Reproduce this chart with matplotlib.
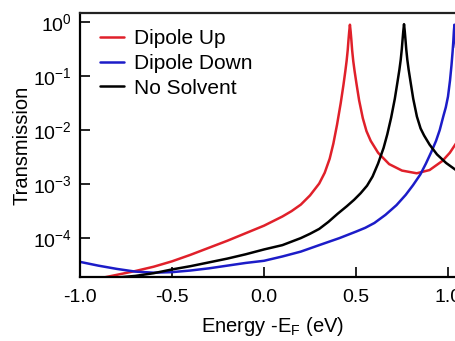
import numpy as np
import matplotlib
matplotlib.use("Agg")
import matplotlib.pyplot as plt
from matplotlib.ticker import FixedLocator, NullLocator

# ---- data (energy in eV, log10 of transmission) ----
red_E = [-1.0, -0.9, -0.8, -0.7, -0.6, -0.5, -0.4, -0.3, -0.2, -0.1, 0.0, 0.1, 0.15, 0.2,
         0.25, 0.30, 0.33, 0.357, 0.377, 0.397, 0.417, 0.432, 0.442, 0.449, 0.455, 0.459,
         0.463, 0.467, 0.471, 0.475, 0.479, 0.485, 0.492, 0.503, 0.517, 0.537, 0.557,
         0.58, 0.62, 0.68, 0.75, 0.83, 0.90, 0.97, 1.01, 1.043, 1.1]
red_logT = [-4.82, -4.75, -4.68, -4.61, -4.53, -4.43, -4.31, -4.18, -4.05, -3.91, -3.77,
            -3.60, -3.50, -3.38, -3.21, -2.99, -2.79, -2.53, -2.25, -1.90, -1.50, -1.16,
            -0.91, -0.72, -0.52, -0.34, -0.18, -0.05, -0.18, -0.34, -0.52, -0.72, -0.90,
            -1.15, -1.45, -1.78, -2.02, -2.20, -2.42, -2.63, -2.75, -2.80, -2.74, -2.57,
            -2.42, -2.25, -1.90]

blue_E = [-1.0, -0.9, -0.8, -0.7, -0.6, -0.5, -0.4, -0.3, -0.2, -0.1, 0.0, 0.1, 0.2,
          0.3, 0.41, 0.5, 0.55, 0.6, 0.66, 0.72, 0.77, 0.81, 0.85, 0.88, 0.91, 0.935,
          0.955, 0.975, 0.988, 1.0, 1.011, 1.019, 1.025, 1.029, 1.032, 1.035, 1.038,
          1.041, 1.045, 1.05]
blue_logT = [-4.44, -4.51, -4.57, -4.62, -4.64, -4.63, -4.60, -4.56, -4.51, -4.46, -4.42,
             -4.34, -4.25, -4.13, -4.00, -3.88, -3.81, -3.72, -3.57, -3.39, -3.20, -3.02,
             -2.82, -2.62, -2.40, -2.20, -2.00, -1.74, -1.58, -1.38, -1.08, -0.80, -0.55,
             -0.35, -0.17, -0.05, -0.17, -0.35, -0.55, -0.80]

black_E = [-1.0, -0.9, -0.8, -0.7, -0.6, -0.5, -0.4, -0.3, -0.2, -0.1, 0.0, 0.1, 0.2,
           0.25, 0.3, 0.35, 0.4, 0.45, 0.49, 0.525, 0.56, 0.59, 0.62, 0.65, 0.67, 0.691,
           0.711, 0.725, 0.736, 0.743, 0.749, 0.753, 0.757, 0.761, 0.765, 0.769, 0.773,
           0.779, 0.786, 0.797, 0.811, 0.831, 0.851, 0.87, 0.90, 0.94, 0.99, 1.043, 1.1]
black_logT = [-4.76, -4.75, -4.73, -4.70, -4.65, -4.58, -4.52, -4.45, -4.38, -4.30, -4.21,
              -4.13, -4.00, -3.92, -3.83, -3.70, -3.55, -3.41, -3.29, -3.17, -3.03, -2.86,
              -2.62, -2.33, -2.08, -1.77, -1.42, -1.12, -0.88, -0.70, -0.50, -0.33, -0.17,
              -0.04, -0.17, -0.33, -0.50, -0.70, -0.88, -1.12, -1.42, -1.75, -1.97, -2.10,
              -2.27, -2.45, -2.61, -2.74, -2.85]

series_labels = ["Dipole Up", "Dipole Down", "No Solvent"]
series_colors = ["#e0202a", "#1c1cc8", "#000000"]

x_ticks = [-1.0, -0.5, 0.0, 0.5, 1.0]
x_ticklabels = ["-1.0", "-0.5", "0.0", "0.5", "1.0"]
y_ticks = [1e0, 1e-1, 1e-2, 1e-3, 1e-4]
y_ticklabels = [r"$\mathregular{10^{0}}$", r"$\mathregular{10^{-1}}$", r"$\mathregular{10^{-2}}$",
                r"$\mathregular{10^{-3}}$", r"$\mathregular{10^{-4}}$"]

# ---- style ----
plt.rcParams["font.family"] = ["Liberation Sans", "DejaVu Sans"]
plt.rcParams["mathtext.fontset"] = "custom"
plt.rcParams["mathtext.rm"] = "Liberation Sans"
plt.rcParams["mathtext.it"] = "Liberation Sans:italic"
plt.rcParams["mathtext.bf"] = "Liberation Sans:bold"
plt.rcParams["axes.unicode_minus"] = False

W, H = 456, 341
fig = plt.figure(figsize=(W / 100, H / 100), dpi=100)
left_px, right_px, top_px, bottom_px = 80, 456, 13, 277
ax = fig.add_axes([left_px / W, 1 - bottom_px / H, (right_px - left_px) / W,
                   (bottom_px - top_px) / H])

for E, lt, lab, col in zip([red_E, blue_E, black_E], [red_logT, blue_logT, black_logT],
                           series_labels, series_colors):
    ax.plot(E, 10 ** np.array(lt), color=col, lw=1.8, label=lab,
            solid_joinstyle="round", solid_capstyle="round")

ax.set_yscale("log")
ax.set_xlim(-1.0, 1.0435)
ax.set_ylim(10 ** -4.72, 10 ** 0.167)

ax.xaxis.set_major_locator(FixedLocator(x_ticks))
ax.set_xticklabels(x_ticklabels)
ax.yaxis.set_major_locator(FixedLocator(y_ticks))
ax.set_yticklabels(y_ticklabels)
ax.yaxis.set_minor_locator(NullLocator())
ax.xaxis.set_minor_locator(NullLocator())

ax.tick_params(axis="both", direction="in", length=7, width=1.2, labelsize=14,
               top=False, right=False)
ax.tick_params(axis="x", pad=9)
ax.tick_params(axis="y", pad=6)

for s in ["left", "bottom", "top"]:
    ax.spines[s].set_linewidth(1.6)
ax.spines["right"].set_visible(False)
ax.spines["top"].set_color("#222222")

ax.set_xlabel(r"Energy -E$_{\mathregular{F}}$ (eV)", fontsize=14.5)
ax.xaxis.set_label_coords(0.512, -0.145)
ax.set_ylabel("Transmission", fontsize=14.5)
ax.yaxis.set_label_coords(-0.13, 0.5)

leg = ax.legend(loc="upper left", bbox_to_anchor=(100 / W, 1 - 29 / H),
                bbox_transform=fig.transFigure, frameon=False, fontsize=15,
                handlelength=1.15, handletextpad=0.5, labelspacing=0.28,
                borderpad=0, borderaxespad=0)
for line in leg.get_lines():
    line.set_linewidth(1.8)

fig.savefig("out.png", dpi=100)
